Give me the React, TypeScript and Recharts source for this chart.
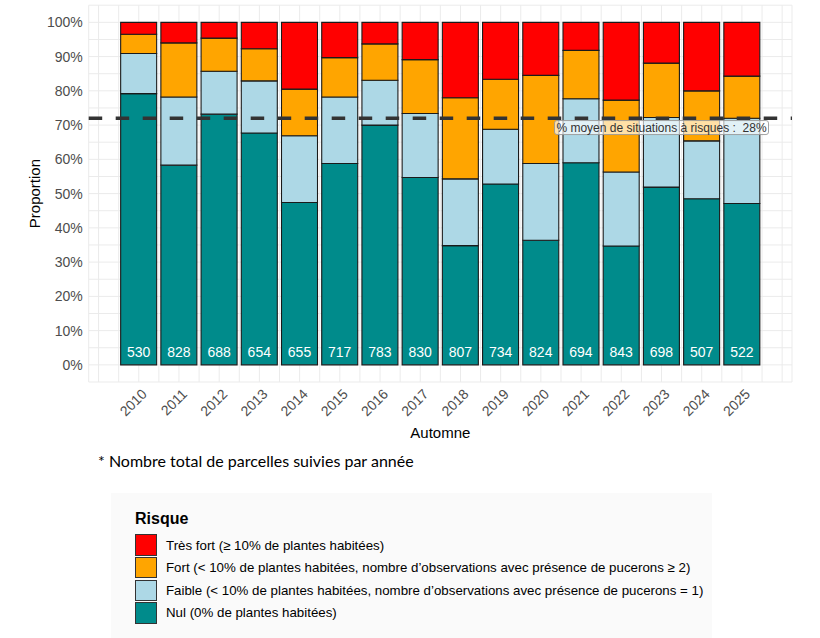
import React from 'react';
import {
  ComposedChart,
  Bar,
  XAxis,
  YAxis,
  CartesianGrid,
  ReferenceLine,
  Legend,
  LabelList,
} from 'recharts';

// ---- Data ----
const years = [2010, 2011, 2012, 2013, 2014, 2015, 2016, 2017, 2018, 2019, 2020, 2021, 2022, 2023, 2024, 2025];
const nul = [79.2, 58.3, 73.2, 67.7, 47.4, 58.8, 70.0, 54.7, 34.8, 52.8, 36.4, 59.0, 34.7, 51.9, 48.5, 47.1];
const faible = [11.7, 19.9, 12.5, 15.2, 19.5, 19.4, 13.1, 18.7, 19.5, 16.0, 22.4, 18.7, 21.6, 20.3, 16.9, 24.9];
const fort = [5.6, 15.8, 9.7, 9.4, 13.6, 11.5, 10.6, 15.7, 23.7, 14.6, 25.7, 14.1, 21.0, 15.9, 14.6, 12.3];
const tresFort = [3.5, 6.0, 4.6, 7.7, 19.5, 10.3, 6.3, 10.9, 22.0, 16.6, 15.5, 8.2, 22.7, 11.9, 20.0, 15.7];
const parcelles = [530, 828, 688, 654, 655, 717, 783, 830, 807, 734, 824, 694, 843, 698, 507, 522];

const meanRiskPct = 28;
const meanLabelYear = 2023;
const meanLabelText = '% moyen de situations à risques :  28%';

const yLabelTicks = [0, 10, 20, 30, 40, 50, 60, 70, 80, 90, 100];
const yGridTicks = [-5, 0, 5, 10, 15, 20, 25, 30, 35, 40, 45, 50, 55, 60, 65, 70, 75, 80, 85, 90, 95, 100, 105];
const xGridTicks = [2009, ...years.flatMap((y) => [y - 0.5, y]), 2025.5, 2026];
const xDomain: [number, number] = [2008.755, 2026.245];

const series = [
  { key: 'nul', name: 'Nul (0% de plantes habitées)', color: '#008B8B' },
  { key: 'faible', name: 'Faible (< 10% de plantes habitées, nombre d’observations avec présence de pucerons = 1)', color: '#ADD8E6' },
  { key: 'fort', name: 'Fort (< 10% de plantes habitées, nombre d’observations avec présence de pucerons ≥ 2)', color: '#FFA500' },
  { key: 'tresFort', name: 'Très fort (≥ 10% de plantes habitées)', color: '#FF0000' },
];

const data = years.map((year, i) => ({
  year,
  nul: nul[i],
  faible: faible[i],
  fort: fort[i],
  tresFort: tresFort[i],
  n: parcelles[i],
}));

const FONT = '"Liberation Sans", Arial, Helvetica, sans-serif';
const TICK_COLOR = '#4D4D4D';

const YearTick = (props: any) => {
  const { x, y, payload } = props;
  if (!years.includes(payload.value)) return <g />;
  return (
    <text
      transform={`translate(${x + 2},${y + 6}) rotate(-45)`}
      textAnchor="end"
      dy="0.71em"
      fontSize={14}
      fontFamily={FONT}
      fill={TICK_COLOR}
    >
      {payload.value}
    </text>
  );
};

const YTitle = (props: any) => {
  const vb = props.viewBox || {};
  const cx = vb.x + 6;
  const cy = vb.y + vb.height / 2;
  return (
    <text
      transform={`translate(${cx},${cy}) rotate(-90)`}
      textAnchor="middle"
      dominantBaseline="central"
      fontSize={15}
      fontFamily={FONT}
      fill="#000"
    >
      Proportion
    </text>
  );
};

const XTitle = (props: any) => {
  const vb = props.viewBox || {};
  return (
    <text x={vb.x + vb.width / 2} y={vb.y + 56} textAnchor="middle" fontSize={15} fontFamily={FONT} fill="#000">
      Automne
    </text>
  );
};

const MeanLabel = (props: any) => {
  const vb = props.viewBox || {};
  const cx = vb.x + ((meanLabelYear - xDomain[0]) / (xDomain[1] - xDomain[0])) * vb.width;
  const w = 214;
  const h = 14;
  const top = vb.y + 2.3;
  return (
    <g>
      <rect x={cx - w / 2} y={top} width={w} height={h} rx={2.5} ry={2.5} fill="rgba(255,255,255,0.65)" stroke="#9a9a9a" strokeWidth={0.9} />
      <text
        x={cx}
        y={top + h / 2}
        textAnchor="middle"
        dominantBaseline="central"
        fontSize={12}
        fontFamily={FONT}
        fill="#333"
        style={{ whiteSpace: 'pre' }}
      >
        {meanLabelText}
      </text>
    </g>
  );
};

const CountLabel = (props: any) => {
  const { x, y, width, height, value } = props;
  return (
    <text x={x + width / 2} y={y + height - 8} textAnchor="middle" fontSize={14} fontFamily={FONT} fill="#FFFFFF">
      {value}
    </text>
  );
};

const LegendContent = () => {
  const items = [...series].reverse();
  return (
    <div style={{ position: 'relative', width: '100%', height: '100%', fontFamily: FONT }}>
      <div style={{ position: 'absolute', left: 24, top: 16, fontSize: 16, fontWeight: 'bold', color: '#000', lineHeight: '20px' }}>
        Risque
      </div>
      {items.map((s, i) => (
        <div key={s.key} style={{ position: 'absolute', left: 24, top: 41.3 + i * 22.6, height: 21.5, display: 'flex', alignItems: 'center' }}>
          <div style={{ width: 20, height: 19.5, background: s.color, border: '1px solid #333' }} />
          <span style={{ marginLeft: 9, fontSize: 13.3, color: '#000', whiteSpace: 'nowrap' }}>{s.name}</span>
        </div>
      ))}
    </div>
  );
};

export default function App() {
  return (
    <div style={{ position: 'absolute', left: 0, top: 0, width: 820, height: 638, background: '#fff' }}>
      <ComposedChart
        width={820}
        height={638}
        data={data}
        margin={{ top: 5.2, right: 28, bottom: 196, left: 28.7 }}
        barGap={0}
      >
        <CartesianGrid stroke="#EBEBEB" strokeWidth={1} />
        <XAxis
          dataKey="year"
          type="number"
          domain={xDomain}
          allowDataOverflow
          ticks={xGridTicks}
          interval={0}
          tick={<YearTick />}
          tickLine={false}
          axisLine={false}
          tickSize={0}
          tickMargin={0}
          height={60}
          label={<XTitle />}
        />
        <YAxis
          type="number"
          domain={[-5, 105]}
          allowDataOverflow
          ticks={yGridTicks}
          interval={0}
          tickFormatter={(v: number) => (yLabelTicks.includes(v) ? `${v}%` : '')}
          tick={{ fill: TICK_COLOR, fontSize: 14, fontFamily: FONT }}
          tickLine={false}
          axisLine={false}
          tickSize={6}
          tickMargin={0}
          width={60}
          label={<YTitle />}
        />
        {series.map((s) => (
          <Bar
            key={s.key}
            dataKey={s.key}
            name={s.name}
            stackId="risk"
            fill={s.color}
            stroke="#1A1A1A"
            strokeWidth={1.1}
            barSize={36}
            isAnimationActive={false}
          >
            {s.key === 'nul' ? <LabelList dataKey="n" content={<CountLabel />} /> : null}
          </Bar>
        ))}
        <ReferenceLine
          y={100 - meanRiskPct}
          stroke="#333333"
          strokeWidth={3.5}
          strokeDasharray="13.5 13.5"
          label={<MeanLabel />}
        />
        <Legend
          layout="vertical"
          align="center"
          verticalAlign="middle"
          content={<LegendContent />}
          wrapperStyle={{ left: 111, top: 493, width: 601, height: 145, background: '#FAFAFA' }}
        />
      </ComposedChart>
      <div
        style={{
          position: 'absolute',
          left: 98,
          top: 452,
          fontFamily: 'Lato, "Open Sans", sans-serif',
          fontSize: 16,
          lineHeight: '18px',
          color: '#000',
          whiteSpace: 'nowrap',
        }}
      >
        * Nombre total de parcelles suivies par année
      </div>
    </div>
  );
}
